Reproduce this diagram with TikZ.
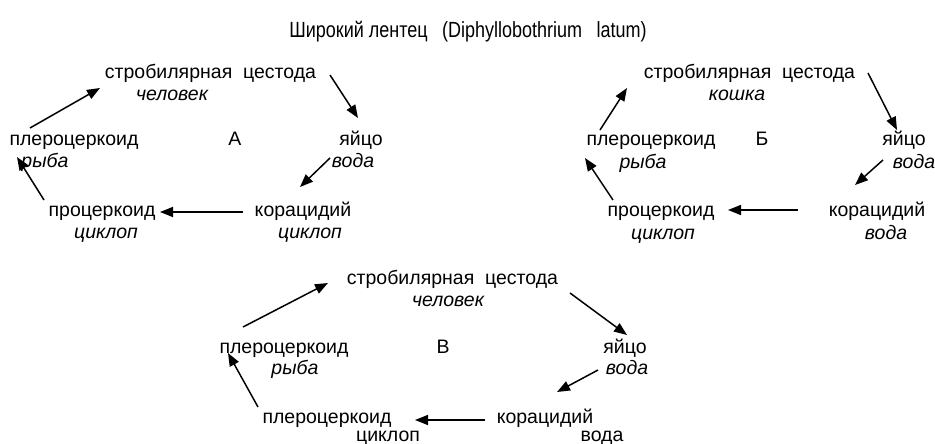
\documentclass[tikz,border=0pt]{standalone}
\usepackage{fontspec}
\setmainfont{Liberation Sans}
\usetikzlibrary{arrows.meta,calc}
\begin{document}
\begin{tikzpicture}[x=1pt,y=-1pt,
  lbl/.style={anchor=base,inner sep=0pt,font=\fontsize{19.5}{22}\selectfont},
  host/.style={lbl,font=\fontsize{19.5}{22}\selectfont\itshape},
  ttl/.style={anchor=base,inner sep=0pt,font=\fontsize{18}{20}\selectfont},
  arr/.style={line width=1.5pt,-{Triangle[length=13pt,width=10pt]}}]
\useasboundingbox (0,0) rectangle (935,444);
\node[ttl] (title) at (468,38) {\scalebox{1}[1.22]{Широкий лентец\hspace{0.8em}(Diphyllobothrium\hspace{0.8em}latum)}};
% ---- A ----
\node[lbl]  (sA)  at (210.5,79) {стробилярная\ \ цестода};
\node[host] (hsA) at (172,101) {человек};
\node[lbl]  (pA)  at (74,145) {плероцеркоид};
\node[host] (hpA) at (45,167) {рыба};
\node[lbl]  (lA)  at (235,145) {А};
\node[lbl]  (eA)  at (361,145) {яйцо};
\node[host] (heA) at (353,167) {вода};
\node[lbl]  (kA)  at (303,216) {корацидий};
\node[host] (hkA) at (310,238) {циклоп};
\node[lbl]  (rA)  at (102,216) {процеркоид};
\node[host] (hrA) at (106,238) {циклоп};
\draw[arr] ($(pA.base)+(-44,-17)$) -- ($(sA.base)+(-110.5,9)$);
\draw[arr] ($(sA.base)+(119.5,-4)$) -- ($(eA.base)+(-3,-27)$);
\draw[arr] ($(heA.base)+(-23,-9)$) -- ($(kA.base)+(-3,-29)$);
\draw[arr] ($(kA.base)+(-60,-4)$) -- ($(rA.base)+(58,-4)$);
\draw[arr] ($(rA.base)+(-58,-16)$) -- ($(pA.base)+(-57,12)$);
% ---- Б ----
\node[lbl]  (sB)  at (749.5,79) {стробилярная\ \ цестода};
\node[host] (hsB) at (737,101) {кошка};
\node[lbl]  (pB)  at (651,146) {плероцеркоид};
\node[host] (hpB) at (643,168) {рыба};
\node[lbl]  (lB)  at (762,146) {Б};
\node[lbl]  (eB)  at (904,146) {яйцо};
\node[host] (heB) at (914,168) {вода};
\node[lbl]  (kB)  at (877,216) {корацидий};
\node[host] (hkB) at (886,239) {вода};
\node[lbl]  (rB)  at (661,216) {процеркоид};
\node[host] (hrB) at (663,239) {циклоп};
\draw[arr] ($(pB.base)+(-51,-16)$) -- ($(sB.base)+(-122.5,9)$);
\draw[arr] ($(sB.base)+(118.5,-6)$) -- ($(eB.base)+(-7,-16)$);
\draw[arr] ($(heB.base)+(-31,-8)$) -- ($(kB.base)+(-22,-31)$);
\draw[arr] ($(kB.base)+(-79,-6)$) -- ($(rB.base)+(67,-6)$);
\draw[arr] ($(rB.base)+(-48,-16)$) -- ($(pB.base)+(-66,12)$);
% ---- В ----
\node[lbl]  (sC)  at (452.5,284) {стробилярная\ \ цестода};
\node[host] (hsC) at (448,306) {человек};
\node[lbl]  (pC)  at (284,353) {плероцеркоид};
\node[host] (hpC) at (295,374) {рыба};
\node[lbl]  (lC)  at (443,353) {В};
\node[lbl]  (eC)  at (625,353) {яйцо};
\node[host] (heC) at (627,374) {вода};
\node[lbl]  (kC)  at (545,423) {корацидий};
\node[lbl]  (hkC) at (602,441) {вода};
\node[lbl]  (rC)  at (327,423) {плероцеркоид};
\node[lbl]  (hrC) at (388,441) {циклоп};
\draw[arr] ($(pC.base)+(-41,-26)$) -- ($(sC.base)+(-124.5,-1)$);
\draw[arr] ($(sC.base)+(117.5,9)$) -- ($(eC.base)+(2,-18)$);
\draw[arr] ($(heC.base)+(-29,-4)$) -- ($(kC.base)+(12,-31)$);
\draw[arr] ($(kC.base)+(-60,-3)$) -- ($(rC.base)+(88,-3)$);
\draw[arr] ($(rC.base)+(-69,-16)$) -- ($(pC.base)+(-56,0)$);
\end{tikzpicture}
\end{document}
